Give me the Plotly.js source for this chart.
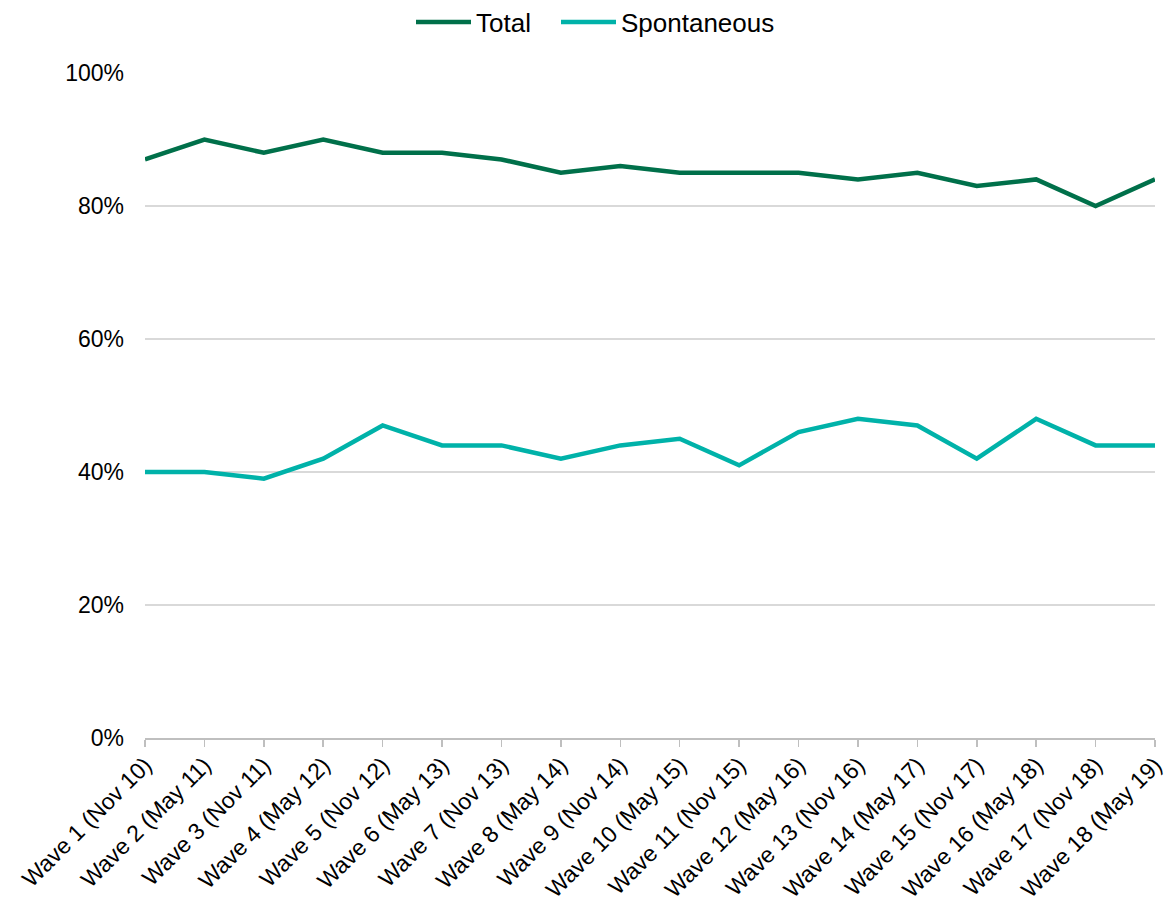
<!DOCTYPE html>
<html>
<head>
<meta charset="utf-8">
<script src="https://cdn.plot.ly/plotly-3.0.1.min.js"></script>
<style>
  html, body { margin: 0; padding: 0; background: #fff; }
  #chart { width: 1167px; height: 905px; }
</style>
</head>
<body>
<div id="chart"></div>
<script>
// Survey waves (x-axis categories)
const waves = [
  "Wave 1 (Nov 10)", "Wave 2 (May 11)", "Wave 3 (Nov 11)", "Wave 4 (May 12)",
  "Wave 5 (Nov 12)", "Wave 6 (May 13)", "Wave 7 (Nov 13)", "Wave 8 (May 14)",
  "Wave 9 (Nov 14)", "Wave 10 (May 15)", "Wave 11 (Nov 15)", "Wave 12 (May 16)",
  "Wave 13 (Nov 16)", "Wave 14 (May 17)", "Wave 15 (Nov 17)", "Wave 16 (May 18)",
  "Wave 17 (Nov 18)", "Wave 18 (May 19)"
];

// Share of respondents, in percent
const totalPct = [87, 90, 88, 90, 88, 88, 87, 85, 86, 85, 85, 85, 84, 85, 83, 84, 80, 84];
const spontaneousPct = [40, 40, 39, 42, 47, 44, 44, 42, 44, 45, 41, 46, 48, 47, 42, 48, 44, 44];

const yTicks = [0, 20, 40, 60, 80, 100];

const family = "Liberation Sans, Arial, sans-serif";
const tickFont = { family: family, size: 23, color: "#000" };
const legendFont = { family: family, size: 26, color: "#000" };

const traces = [
  {
    name: "Total",
    x: waves,
    y: totalPct.map(v => v / 100),
    type: "scatter",
    mode: "lines",
    line: { color: "#00704A", width: 4.5 },
    legend: "legend"
  },
  {
    name: "Spontaneous",
    x: waves,
    y: spontaneousPct.map(v => v / 100),
    type: "scatter",
    mode: "lines",
    line: { color: "#00B2A9", width: 4.5 },
    legend: "legend2"
  }
];

// one legend box per series, laid out side by side above the plot
function legendBox(leftPx) {
  return {
    orientation: "h",
    xref: "paper",
    x: (leftPx - 145) / 1010,
    xanchor: "left",
    yref: "container",
    y: 0.9757,
    yanchor: "middle",
    font: legendFont,
    itemwidth: 55,
    bgcolor: "rgba(0,0,0,0)"
  };
}

const layout = {
  width: 1167,
  height: 905,
  margin: { l: 145, r: 12, t: 72, b: 167 },
  paper_bgcolor: "#fff",
  plot_bgcolor: "#fff",
  font: tickFont,
  showlegend: true,
  legend: legendBox(411),
  legend2: legendBox(556),
  xaxis: {
    type: "category",
    range: [0, waves.length - 1],
    tickangle: -45,
    ticks: "outside",
    ticklen: 7,
    tickwidth: 1.5,
    tickcolor: "#bfbfbf",
    ticklabelstandoff: -4,
    showline: true,
    linecolor: "#bfbfbf",
    linewidth: 1.5,
    showgrid: false,
    zeroline: false,
    tickfont: tickFont,
    automargin: false
  },
  yaxis: {
    range: [0, 1.0015],
    tickvals: yTicks.map(v => v / 100),
    ticktext: yTicks.map(v => v + "%"),
    showgrid: true,
    gridcolor: "#d9d9d9",
    gridwidth: 1.5,
    zeroline: false,
    showline: false,
    ticks: "",
    ticklabelstandoff: 20,
    tickfont: tickFont,
    automargin: false
  }
};

Plotly.newPlot("chart", traces, layout, { displayModeBar: false, staticPlot: true });
</script>
</body>
</html>
